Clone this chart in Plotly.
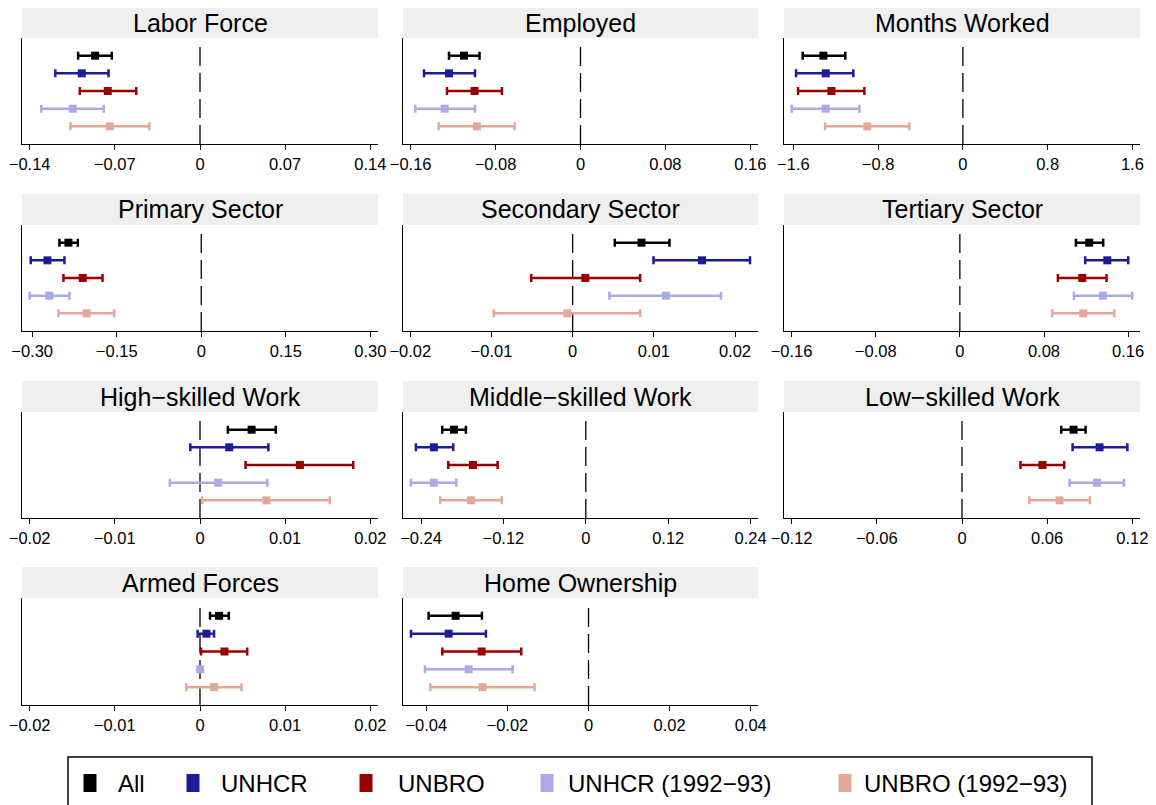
import plotly.graph_objects as go

W, H = 1156, 805
OFF = 8  # the page body margin shifts the figure by 8px, so place everything 8px earlier

# panel titles (Stata style minus sign in the hyphenated ones)
titles = ["Labor Force", "Employed", "Months Worked",
          "Primary Sector", "Secondary Sector", "Tertiary Sector",
          "High−skilled Work", "Middle−skilled Work", "Low−skilled Work",
          "Armed Forces", "Home Ownership"]

tick_labels = [
    ["−0.14", "−0.07", "0", "0.07", "0.14"],
    ["−0.16", "−0.08", "0", "0.08", "0.16"],
    ["−1.6", "−0.8", "0", "0.8", "1.6"],
    ["−0.30", "−0.15", "0", "0.15", "0.30"],
    ["−0.02", "−0.01", "0", "0.01", "0.02"],
    ["−0.16", "−0.08", "0", "0.08", "0.16"],
    ["−0.02", "−0.01", "0", "0.01", "0.02"],
    ["−0.24", "−0.12", "0", "0.12", "0.24"],
    ["−0.12", "−0.06", "0", "0.06", "0.12"],
    ["−0.02", "−0.01", "0", "0.01", "0.02"],
    ["−0.04", "−0.02", "0", "0.02", "0.04"],
]

# point estimates and 95% CI bounds, one value per panel
all_est = [-0.0862, -0.1098, -1.317, -0.2356, 0.00848, 0.1230, 0.00606, -0.1921, 0.0786, 0.00224, -0.03277]
all_lo = [-0.1002, -0.1239, -1.512, -0.2516, 0.00519, 0.1104, 0.00327, -0.2091, 0.0699, 0.00118, -0.03943]
all_hi = [-0.0725, -0.0951, -1.110, -0.2190, 0.01193, 0.1363, 0.00890, -0.1746, 0.0871, 0.00338, -0.02628]

unhcr_est = [-0.0972, -0.1239, -1.295, -0.2729, 0.01593, 0.1402, 0.00343, -0.2213, 0.0969, 0.00075, -0.03450]
unhcr_lo = [-0.1189, -0.1474, -1.575, -0.3025, 0.00996, 0.1192, -0.00114, -0.2475, 0.0779, -0.00028, -0.04378]
unhcr_hi = [-0.0752, -0.0994, -1.034, -0.2427, 0.02185, 0.1601, 0.00803, -0.1931, 0.1165, 0.00165, -0.02530]

unbro_est = [-0.0758, -0.0998, -1.241, -0.2102, 0.00156, 0.1164, 0.01173, -0.1644, 0.0567, 0.00287, -0.02637]
unbro_lo = [-0.0988, -0.1258, -1.556, -0.2445, -0.00510, 0.0932, 0.00535, -0.2004, 0.0412, 0.00012, -0.03606]
unbro_hi = [-0.0524, -0.0740, -0.930, -0.1752, 0.00831, 0.1395, 0.01799, -0.1284, 0.0720, 0.00554, -0.01659]

unhcr92_est = [-0.1046, -0.1280, -1.295, -0.2694, 0.01148, 0.1360, 0.00213, -0.2213, 0.0951, 0.00002, -0.02957]
unhcr92_lo = [-0.1304, -0.1556, -1.616, -0.3043, 0.00453, 0.1085, -0.00354, -0.2548, 0.0758, -0.00005, -0.04033]
unhcr92_hi = [-0.0791, -0.0994, -0.977, -0.2338, 0.01827, 0.1639, 0.00791, -0.1887, 0.1141, 0.00009, -0.01873]

unbro92_est = [-0.0741, -0.0976, -0.902, -0.2036, -0.00066, 0.1173, 0.00780, -0.1673, 0.0687, 0.00165, -0.02612]
unbro92_lo = [-0.1065, -0.1336, -1.301, -0.2534, -0.00971, 0.0878, 0.00024, -0.2120, 0.0475, -0.00161, -0.03902]
unbro92_hi = [-0.0417, -0.0621, -0.506, -0.1545, 0.00831, 0.1468, 0.01524, -0.1225, 0.0901, 0.00487, -0.01331]

series = [
    ("All", "#000000", all_est, all_lo, all_hi),
    ("UNHCR", "#1c1c96", unhcr_est, unhcr_lo, unhcr_hi),
    ("UNBRO", "#990000", unbro_est, unbro_lo, unbro_hi),
    ("UNHCR (1992−93)", "#aaaae6", unhcr92_est, unhcr92_lo, unhcr92_hi),
    ("UNBRO (1992−93)", "#e6a896", unbro92_est, unbro92_lo, unbro92_hi),
]

FONT = "Liberation Sans, Arial, sans-serif"


def px(x):
    return (x - OFF) / W


def py(y):
    return 1 - (y - OFF) / H


# page-pixel layout of the grid
col_px = [(22, 378), (403, 758), (784, 1140)]
row_px = [(38, 144), (225, 331), (412, 518), (598, 705)]
strip_h = 31

fig = go.Figure()
shapes = []
annotations = []

for i, title in enumerate(titles):
    r, c = divmod(i, 3)
    xl, xr = col_px[c]
    yt, yb = row_px[r]
    n = "" if i == 0 else str(i + 1)
    xa, ya = "x" + n, "y" + n

    tickvals = [float(t.replace("−", "-")) for t in tick_labels[i]]
    data_lo = min(s[3][i] for s in series)
    data_hi = max(s[4][i] for s in series)
    lo = min(tickvals[0], data_lo) * 1.045
    hi = max(tickvals[-1], data_hi) * 1.045

    fig.layout["xaxis" + n] = dict(
        domain=[px(xl), px(xr)], anchor=ya, range=[lo, hi],
        tickvals=tickvals, ticktext=tick_labels[i],
        showline=True, linecolor="black", linewidth=1.3,
        ticks="outside", ticklen=5, tickwidth=1.3, tickcolor="black",
        tickfont=dict(size=16.5, color="black", family=FONT),
        showgrid=False, zeroline=False, fixedrange=True, automargin=False,
    )
    fig.layout["yaxis" + n] = dict(
        domain=[py(yb), py(yt)], anchor=xa, range=[6, 0],
        showline=True, linecolor="black", linewidth=1.3,
        showticklabels=False, ticks="", showgrid=False, zeroline=False,
        fixedrange=True, automargin=False,
    )

    # grey title strip
    shapes.append(dict(type="rect", xref="paper", yref="paper",
                       x0=px(xl), x1=px(xr), y0=py(yt), y1=py(yt - strip_h),
                       fillcolor="#efefef", line=dict(width=0), layer="below"))
    annotations.append(dict(text=title, xref="paper", yref="paper",
                            x=px((xl + xr) / 2), y=py(yt - strip_h / 2),
                            xanchor="center", yanchor="middle", showarrow=False,
                            font=dict(size=25, color="black", family=FONT)))
    # dashed zero line
    shapes.append(dict(type="line", xref=xa, yref=ya, x0=0, x1=0, y0=6, y1=0.4,
                       line=dict(color="black", width=1.3, dash="19px,7px"),
                       layer="below"))

    for k, (name, color, est, elo, ehi) in enumerate(series):
        fig.add_trace(go.Scatter(
            x=[est[i]], y=[k + 1], xaxis=xa, yaxis=ya, mode="markers",
            marker=dict(symbol="square", size=8, color=color),
            error_x=dict(type="data", symmetric=False,
                         array=[ehi[i] - est[i]], arrayminus=[est[i] - elo[i]],
                         color=color, thickness=2.5, width=4),
            name=name, showlegend=False,
        ))

# legend box drawn by hand to match spacing
shapes.append(dict(type="rect", xref="paper", yref="paper",
                   x0=px(68), x1=px(1092), y0=-0.02, y1=py(757),
                   line=dict(color="black", width=1.5), fillcolor="rgba(0,0,0,0)"))
swatch_x = [90, 193, 366, 547, 845]
text_x = [116, 219, 396, 566, 862]
for (name, color, *_), sx, tx in zip(series, swatch_x, text_x):
    shapes.append(dict(type="rect", xref="paper", yref="paper",
                       x0=px(sx - 6.5), x1=px(sx + 6.5),
                       y0=py(792), y1=py(774),
                       fillcolor=color, line=dict(width=0)))
    annotations.append(dict(text=name, xref="paper", yref="paper",
                            x=px(tx), y=py(783), xanchor="left", yanchor="middle",
                            showarrow=False,
                            font=dict(size=24, color="black", family=FONT)))

fig.update_layout(
    width=W, height=H, margin=dict(l=0, r=0, t=0, b=0, autoexpand=False),
    paper_bgcolor="white", plot_bgcolor="white",
    shapes=shapes, annotations=annotations,
    font=dict(family=FONT, color="black"),
    showlegend=False,
)

fig.write_html("out.html")
